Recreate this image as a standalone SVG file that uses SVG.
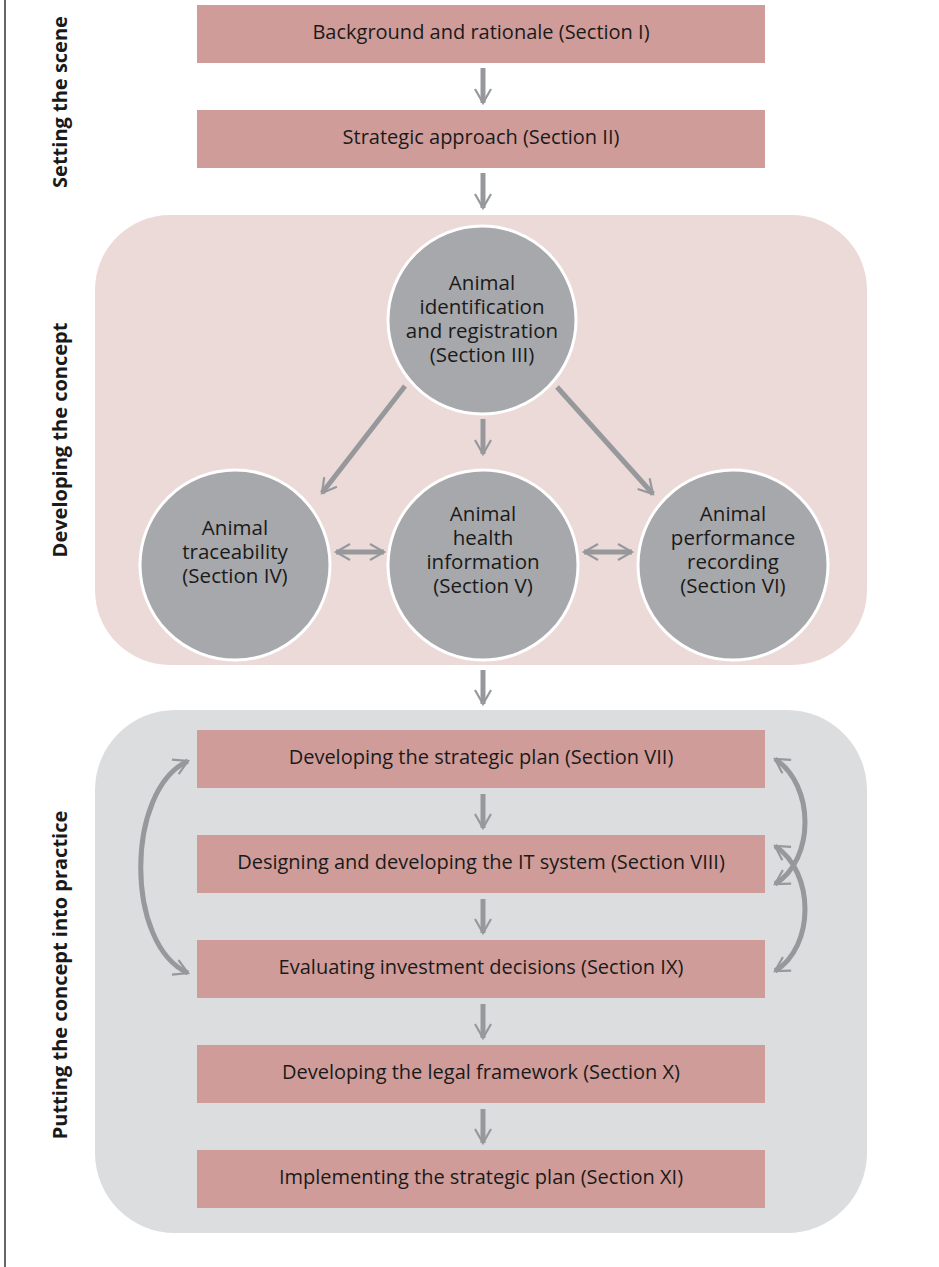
<svg xmlns="http://www.w3.org/2000/svg" width="939" height="1267" viewBox="0 0 939 1267">
<defs>
<style>
.box{fill:#d09c99}
.t{font-family:"Open Sans","Noto Sans",sans-serif;font-size:20px;fill:#1a1a1a;text-anchor:middle}
.c{font-family:"Open Sans","Noto Sans",sans-serif;font-size:20.5px;fill:#1a1a1a;text-anchor:middle}
.side{font-family:"Open Sans","Noto Sans",sans-serif;font-size:20px;font-weight:bold;fill:#1a1a1a;text-anchor:middle}
.circ{fill:#a7a8ab;stroke:#ffffff;stroke-width:3}
.arr{fill:none;stroke:#97989c;stroke-width:5}
</style>
<marker id="ah" viewBox="0 0 10 10" refX="8" refY="5" markerWidth="4" markerHeight="4" orient="auto-start-reverse" markerUnits="strokeWidth">
<path d="M1,1 L8,5 L1,9" fill="none" stroke="#97989c" stroke-width="1.1"/>
</marker>
</defs>
<rect width="939" height="1267" fill="#ffffff"/>
<line x1="5" y1="0" x2="5" y2="1267" stroke="#333" stroke-width="1.5"/>

<g id="labels">
<text class="side" transform="translate(67,102) rotate(-90)">Setting the scene</text>
<text class="side" transform="translate(67,440) rotate(-90)">Developing the concept</text>
<text class="side" transform="translate(67,975) rotate(-90)">Putting the concept into practice</text>
</g>

<g id="panel-concept"><rect x="95" y="215" width="772" height="450" rx="75" fill="#ecdad9"/></g>
<g id="panel-practice"><rect x="95" y="710" width="772" height="523" rx="80" fill="#dcdddf"/></g>

<g id="n1"><rect class="box" x="197" y="5" width="568" height="58"/><text class="t" x="481" y="39">Background and rationale (Section I)</text></g>
<g id="n2"><rect class="box" x="197" y="110" width="568" height="58"/><text class="t" x="481" y="144">Strategic approach (Section II)</text></g>

<g id="c3"><circle class="circ" cx="482" cy="320" r="94"/>
<text class="c" x="482" y="290"><tspan x="482">Animal</tspan><tspan x="482" dy="24">identification</tspan><tspan x="482" dy="24">and registration</tspan><tspan x="482" dy="24">(Section III)</tspan></text></g>
<g id="c4"><circle class="circ" cx="235" cy="565" r="95"/>
<text class="c" x="235" y="535"><tspan x="235">Animal</tspan><tspan x="235" dy="24">traceability</tspan><tspan x="235" dy="24">(Section IV)</tspan></text></g>
<g id="c5"><circle class="circ" cx="483" cy="565" r="95"/>
<text class="c" x="483" y="521"><tspan x="483">Animal</tspan><tspan x="483" dy="24">health</tspan><tspan x="483" dy="24">information</tspan><tspan x="483" dy="24">(Section V)</tspan></text></g>
<g id="c6"><circle class="circ" cx="733" cy="565" r="95"/>
<text class="c" x="733" y="521"><tspan x="733">Animal</tspan><tspan x="733" dy="24">performance</tspan><tspan x="733" dy="24">recording</tspan><tspan x="733" dy="24">(Section VI)</tspan></text></g>

<g id="n7"><rect class="box" x="197" y="730" width="568" height="58"/><text class="t" x="481" y="764">Developing the strategic plan (Section VII)</text></g>
<g id="n8"><rect class="box" x="197" y="835" width="568" height="58"/><text class="t" x="481" y="869">Designing and developing the IT system (Section VIII)</text></g>
<g id="n9"><rect class="box" x="197" y="940" width="568" height="58"/><text class="t" x="481" y="974">Evaluating investment decisions (Section IX)</text></g>
<g id="n10"><rect class="box" x="197" y="1045" width="568" height="58"/><text class="t" x="481" y="1079">Developing the legal framework (Section X)</text></g>
<g id="n11"><rect class="box" x="197" y="1150" width="568" height="58"/><text class="t" x="481" y="1184">Implementing the strategic plan (Section XI)</text></g>

<g id="connectors">
<line class="arr" x1="483" y1="68" x2="483" y2="103" marker-end="url(#ah)"/>
<line class="arr" x1="483" y1="173" x2="483" y2="208" marker-end="url(#ah)"/>
<line class="arr" x1="405" y1="386" x2="322" y2="493" marker-end="url(#ah)"/>
<line class="arr" x1="483" y1="419" x2="483" y2="454" marker-end="url(#ah)"/>
<line class="arr" x1="557" y1="387" x2="653" y2="494" marker-end="url(#ah)"/>
<line class="arr" x1="336" y1="552" x2="384" y2="552" marker-start="url(#ah)" marker-end="url(#ah)"/>
<line class="arr" x1="584" y1="552" x2="632" y2="552" marker-start="url(#ah)" marker-end="url(#ah)"/>
<line class="arr" x1="483" y1="670" x2="483" y2="704" marker-end="url(#ah)"/>
<line class="arr" x1="483" y1="794" x2="483" y2="828" marker-end="url(#ah)"/>
<line class="arr" x1="483" y1="899" x2="483" y2="933" marker-end="url(#ah)"/>
<line class="arr" x1="483" y1="1004" x2="483" y2="1038" marker-end="url(#ah)"/>
<line class="arr" x1="483" y1="1109" x2="483" y2="1143" marker-end="url(#ah)"/>
<path class="arr" d="M188,761 C125,790 125,945 188,973" marker-start="url(#ah)" marker-end="url(#ah)"/>
<path class="arr" d="M775,759 C815,785 815,860 775,884" marker-start="url(#ah)" marker-end="url(#ah)"/>
<path class="arr" d="M775,846 C815,872 815,947 775,971" marker-start="url(#ah)" marker-end="url(#ah)"/>
</g>
</svg>
